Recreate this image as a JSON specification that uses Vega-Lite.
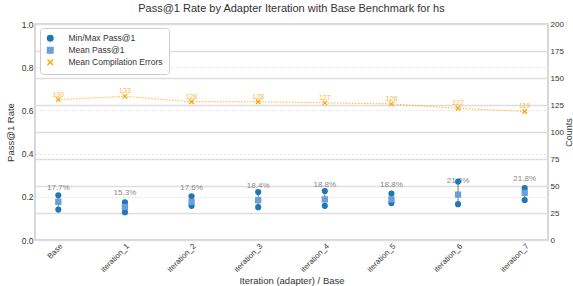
{
  "$schema": "https://vega.github.io/schema/vega-lite/v6.json",
  "autosize": {"type": "none"},
  "padding": {"left": 35, "top": 24, "right": 25, "bottom": 46},
  "width": 513,
  "height": 216,
  "background": "white",
  "config": {
    "font": "Liberation Sans",
    "view": {"stroke": "#cccccc", "strokeWidth": 1.5},
    "axis": {"labelColor": "#333333", "titleColor": "#333333", "labelFontSize": 8.5, "titleFontSize": 9.5, "titleFontWeight": "normal", "ticks": false, "domain": false, "gridColor": "#dddddd"}
  },
  "title": {"text": "Pass@1 Rate by Adapter Iteration with Base Benchmark for hs", "fontSize": 11, "fontWeight": "normal", "color": "#333333", "offset": 6},
  "data": {"values": [
    {"iteration": "Base", "min": 0.141, "max": 0.207, "mean": 0.177, "errors": 130},
    {"iteration": "iteration_1", "min": 0.129, "max": 0.174, "mean": 0.153, "errors": 133},
    {"iteration": "iteration_2", "min": 0.158, "max": 0.202, "mean": 0.176, "errors": 128},
    {"iteration": "iteration_3", "min": 0.152, "max": 0.222, "mean": 0.184, "errors": 128},
    {"iteration": "iteration_4", "min": 0.158, "max": 0.227, "mean": 0.188, "errors": 127},
    {"iteration": "iteration_5", "min": 0.171, "max": 0.215, "mean": 0.188, "errors": 126},
    {"iteration": "iteration_6", "min": 0.166, "max": 0.271, "mean": 0.210, "errors": 122},
    {"iteration": "iteration_7", "min": 0.185, "max": 0.240, "mean": 0.218, "errors": 119}
  ]},
  "encoding": {
    "x": {"field": "iteration", "type": "ordinal", "sort": null,
      "scale": {"type": "point", "padding": 0.35},
      "axis": {"title": "Iteration (adapter) / Base", "labelAngle": -45, "labelAlign": "right", "labelBaseline": "top", "labelFontSize": 7.8, "labelPadding": 2, "gridDash": [2, 2], "gridWidth": 0.8, "titlePadding": 2}}
  },
  "layer": [
    {
      "layer": [
        {"mark": {"type": "text", "baseline": "bottom", "dy": -10, "fontSize": 8, "color": "#888888"},
         "encoding": {"y": {"field": "mean", "type": "quantitative"}, "text": {"field": "mean", "format": ".1%"}}},
        {"mark": {"type": "rule", "color": "#555555", "strokeWidth": 0.8},
         "encoding": {"y": {"field": "min", "type": "quantitative"}, "y2": {"field": "max"}}},
        {"mark": {"type": "point", "filled": true, "size": 38, "opacity": 1},
         "encoding": {"y": {"field": "min", "type": "quantitative"},
           "color": {"datum": "Min/Max Pass@1", "type": "nominal",
             "scale": {"domain": ["Min/Max Pass@1", "Mean Pass@1", "Mean Compilation Errors"], "range": ["#1f77b4", "#6a9fdb", "#ffa500"]},
             "legend": {"title": null, "orient": "none", "legendX": 5, "legendY": 4, "fillColor": "white", "strokeColor": "#cccccc", "cornerRadius": 3, "padding": 6, "labelFontSize": 8.5, "labelColor": "#333333", "symbolSize": 30, "rowPadding": 0, "symbolStrokeWidth": 1.5, "labelOffset": 14, "labelLimit": 200,
               "encode": {"symbols": {"update": {"stroke": {"scale": "color", "field": "value"}, "strokeWidth": {"value": 1.5}}}}}},
           "shape": {"datum": "Min/Max Pass@1", "type": "nominal",
             "scale": {"domain": ["Min/Max Pass@1", "Mean Pass@1", "Mean Compilation Errors"], "range": ["circle", "square", "M-1,-1L1,1M-1,1L1,-1"]},
             "legend": {"title": null, "orient": "none", "legendX": 5, "legendY": 4}}}},
        {"mark": {"type": "point", "filled": true, "size": 38, "opacity": 1},
         "encoding": {"y": {"field": "max", "type": "quantitative"},
           "color": {"datum": "Min/Max Pass@1", "type": "nominal"}, "shape": {"datum": "Min/Max Pass@1", "type": "nominal"}}},
        {"mark": {"type": "point", "filled": true, "size": 40, "opacity": 1},
         "encoding": {"y": {"field": "mean", "type": "quantitative",
             "scale": {"domain": [0, 1]},
             "axis": {"title": "Pass@1 Rate", "values": [0, 0.2, 0.4, 0.6, 0.8, 1.0], "tickCount": 10, "format": ".1f", "grid": true, "gridDash": [2, 2], "gridWidth": 0.8, "titlePadding": 6}},
           "color": {"datum": "Mean Pass@1", "type": "nominal"}, "shape": {"datum": "Mean Pass@1", "type": "nominal"}}}
      ]
    },
    {
      "encoding": {
        "y": {"field": "errors", "type": "quantitative",
          "scale": {"domain": [0, 200]},
          "axis": {"title": "Counts", "orient": "right", "tickCount": 12, "values": [0, 25, 50, 75, 100, 125, 150, 175, 200], "labelOverlap": false, "labelFontSize": 8, "labelPadding": 2, "titleFontSize": 9, "titleAngle": 270, "titleBaseline": "top", "titlePadding": 1, "grid": true, "gridWidth": 1.5, "gridColor": "#dddddd"}}
      },
      "layer": [
        {"mark": {"type": "line", "color": "#ffa500", "strokeDash": [1.5, 1.5], "strokeWidth": 1, "opacity": 0.8}},
        {"mark": {"type": "point", "filled": false, "size": 20, "strokeWidth": 1.2, "opacity": 1},
         "encoding": {"color": {"datum": "Mean Compilation Errors", "type": "nominal"}, "shape": {"datum": "Mean Compilation Errors", "type": "nominal"}}},
        {"mark": {"type": "text", "baseline": "bottom", "dy": -2, "fontSize": 7, "color": "#ffa500", "opacity": 0.8},
         "encoding": {"text": {"field": "errors"}}}
      ]
    }
  ],
  "resolve": {"scale": {"y": "independent"}}
}
